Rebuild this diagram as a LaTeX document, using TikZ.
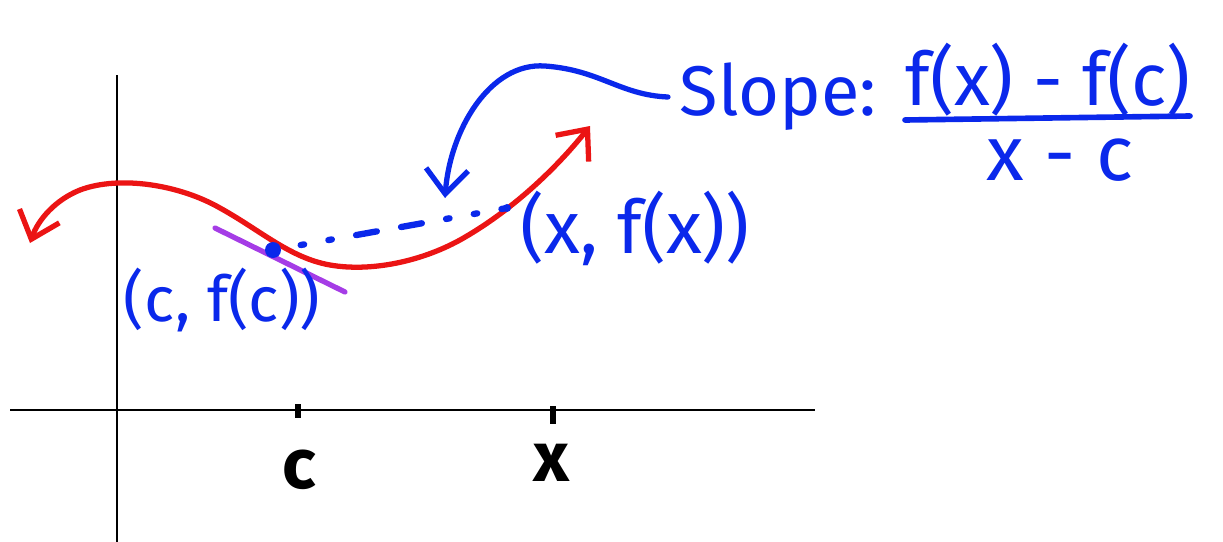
\documentclass[tikz,border=0pt]{standalone}
\usepackage{fontspec}
\setmainfont{Fira Sans}
\usetikzlibrary{arrows.meta}
\definecolor{inkblue}{RGB}{10,40,235}
\definecolor{inkred}{RGB}{235,20,20}
\definecolor{inkpurple}{RGB}{165,60,230}
\tikzset{
  axis/.style={line width=0.7pt,black},
  ink/.style={line width=1.5pt,line cap=round,line join=round},
  barb/.style={-{Straight Barb[length=7pt,width=12pt,line width=1.5pt]}},
  barbs/.style={{Straight Barb[length=7pt,width=12pt,line width=1.5pt]}-{Straight Barb[length=7pt,width=12pt,line width=1.5pt]}},
  lbl/.style={inkblue,inner sep=0pt},
  big/.style={font=\fontsize{21}{25}\selectfont},
}
\begin{document}
\begin{tikzpicture}[x=0.01cm,y=-0.01cm]
\useasboundingbox (0,0) rectangle (1223,542);
% axes
\draw[axis] (10,410) -- (815,410);
\draw[axis] (117,75) -- (117,542);
% ticks
\draw[line width=1.6pt] (298,404) -- (298,418);
\draw[line width=1.6pt] (553,406) -- (553,424);
\node[inner sep=0pt,font=\fontsize{20}{24}\selectfont\bfseries] (lc) at (299,470) {c};
\node[inner sep=0pt,font=\fontsize{20}{24}\selectfont\bfseries] (lx) at (552,463) {x};
% purple tangent
\draw[ink,inkpurple] (215,228) -- (345,292);
% red curve
\draw[ink,inkred,barbs] (30,243) .. controls (38,220) and (55,200) .. (80,190)
  .. controls (120,175) and (180,185) .. (220,208)
  .. controls (260,230) and (290,258) .. (330,265)
  .. controls (370,272) and (420,262) .. (460,240)
  .. controls (510,212) and (555,170) .. (590,126);
% points
\coordinate (pc) at (273,250);
\coordinate (px) at (507,208);
\fill[inkblue] (pc) circle (8);
\fill[inkblue] (px) circle (4);
\draw[inkblue,line width=1.8pt,line cap=round,dash pattern=on 1pt off 7pt on 1pt off 7pt on 1pt off 7pt on 6pt off 7pt on 6pt off 7pt] (pc) -- (px);
% labels
\node[lbl,font=\fontsize{18}{22}\selectfont] (lpc) at (222,300) {(c, f(c))};
\node[lbl,font=\fontsize{21}{25}\selectfont] (lpx) at (635,228) {(x, f(x))};
% slope
\node[lbl,font=\fontsize{20}{24}\selectfont] (slope) at (778,97) {Slope:};
\node[lbl,big] (num) at (1048,80) {f(x) - f(c)};
\node[lbl,font=\fontsize{22}{26}\selectfont] (den) at (1060,160) {x - c};
\draw[inkblue,line width=1.6pt,line cap=round] (905,120) -- (1190,116);
% blue curved arrow
\coordinate (arrstart) at (668,97);
\coordinate (arrend) at (445,198);
\draw[ink,inkblue,barb] (arrstart) .. controls (620,95) and (600,70) .. (545,66)
  .. controls (490,62) and (450,130) .. (arrend);
\end{tikzpicture}
\end{document}
